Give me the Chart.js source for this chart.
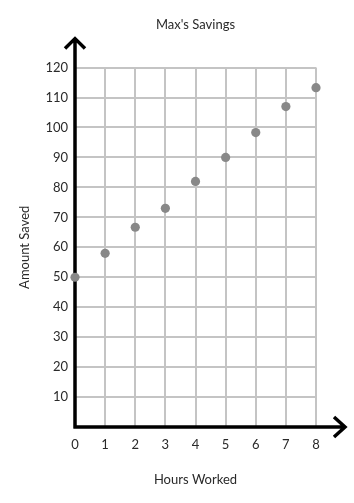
<!DOCTYPE html>
<html>
<head>
<meta charset="utf-8">
<script src="https://cdn.jsdelivr.net/npm/chart.js@4"></script>
<style>
  html, body { margin: 0; padding: 0; background: #fff; }
  #wrap { width: 354px; height: 503px; }
</style>
</head>
<body>
<div id="wrap"><canvas id="savingsChart"></canvas></div>
<script>
const hoursWorked = [0, 1, 2, 3, 4, 5, 6, 7, 8];
const amountSaved = [50, 58, 66.7, 73, 82, 90, 98.3, 107, 113.3];
const xTicks = [0, 1, 2, 3, 4, 5, 6, 7, 8];
const yTicks = [10, 20, 30, 40, 50, 60, 70, 80, 90, 100, 110, 120];

const FONT = 'Lato, "DejaVu Sans", sans-serif';
const TEXT = '#2a2a2a';

// black axes with open arrow heads, drawn under the points
const arrowAxes = {
  id: 'arrowAxes',
  beforeDatasetsDraw(chart) {
    const { ctx, chartArea } = chart;
    const x0 = chart.scales.x.getPixelForValue(0);
    const y0 = chart.scales.y.getPixelForValue(0);
    const topTip = chartArea.top - 29;
    const rightTip = chartArea.right + 29;
    ctx.save();
    ctx.strokeStyle = '#000';
    ctx.lineWidth = 3.5;
    ctx.lineJoin = 'miter';
    ctx.beginPath();
    ctx.moveTo(x0, y0 + 1.5);
    ctx.lineTo(x0, topTip + 1);
    ctx.moveTo(x0 - 10, topTip + 10);
    ctx.lineTo(x0, topTip);
    ctx.lineTo(x0 + 10, topTip + 10);
    ctx.moveTo(x0 - 1.5, y0);
    ctx.lineTo(rightTip - 1, y0);
    ctx.moveTo(rightTip - 11, y0 - 10);
    ctx.lineTo(rightTip, y0);
    ctx.lineTo(rightTip - 11, y0 + 10);
    ctx.stroke();
    ctx.restore();
  }
};

const ctx = document.getElementById('savingsChart').getContext('2d');
new Chart(ctx, {
  type: 'scatter',
  data: {
    datasets: [{
      label: 'Amount Saved',
      data: hoursWorked.map((h, i) => ({ x: h, y: amountSaved[i] })),
      backgroundColor: '#888888',
      borderWidth: 0,
      pointRadius: 4.6,
      pointHoverRadius: 4.6,
      clip: false
    }]
  },
  options: {
    responsive: true,
    maintainAspectRatio: false,
    animation: false,
    layout: { padding: { top: 0, right: 38, bottom: 0, left: 0 } },
    plugins: {
      legend: { display: false },
      tooltip: { enabled: false },
      title: {
        display: true,
        text: "Max's Savings",
        fullSize: false,
        color: TEXT,
        font: { family: FONT, size: 13, weight: 'normal' },
        padding: { top: 17, bottom: 35 }
      }
    },
    scales: {
      x: {
        type: 'linear',
        min: 0,
        max: 8,
        afterBuildTicks: s => { s.ticks = xTicks.map(v => ({ value: v })); },
        afterFit: s => { s.height = 76; },
        grid: { color: '#c4c4c4', lineWidth: 2, drawTicks: false },
        border: { display: false },
        ticks: { color: TEXT, font: { family: FONT, size: 13 }, padding: 10, maxRotation: 0 },
        title: {
          display: true,
          text: 'Hours Worked',
          color: TEXT,
          font: { family: FONT, size: 13 },
          padding: { top: 0, bottom: 15 }
        }
      },
      y: {
        type: 'linear',
        min: 0,
        max: 120,
        afterBuildTicks: s => { s.ticks = [0].concat(yTicks).map(v => ({ value: v })); },
        afterFit: s => { s.width = 75; },
        grid: { color: '#c4c4c4', lineWidth: 2, drawTicks: false },
        border: { display: false },
        ticks: {
          color: TEXT,
          font: { family: FONT, size: 13 },
          padding: 7,
          callback: v => (v === 0 ? '' : v)
        },
        title: {
          display: true,
          text: 'Amount Saved',
          color: TEXT,
          font: { family: FONT, size: 13 },
          padding: { top: 17, bottom: 0 }
        }
      }
    }
  },
  plugins: [arrowAxes]
});
</script>
</body>
</html>
